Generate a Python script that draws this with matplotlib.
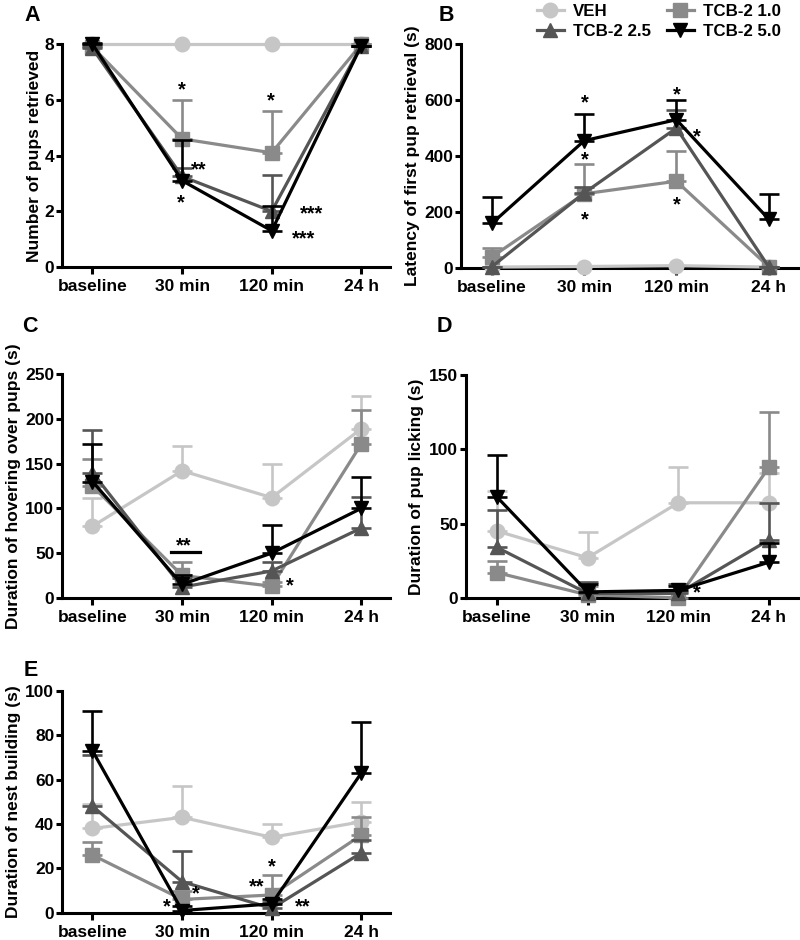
import matplotlib
matplotlib.use('Agg')
import matplotlib.pyplot as plt
import matplotlib.transforms as mtransforms
from matplotlib.lines import Line2D
import numpy as np

plt.rcParams['font.family'] = ['Liberation Sans', 'DejaVu Sans']
plt.rcParams['font.weight'] = 'bold'
plt.rcParams['axes.labelweight'] = 'bold'

times = ['baseline', '30 min', '120 min', '24 h']
groups = ['VEH', 'TCB-2 1.0', 'TCB-2 2.5', 'TCB-2 5.0']

# panel A: number of pups retrieved (mean, upper SEM)
a_veh = [8, 8, 8, 8]
a_veh_err = [0, 0, 0, 0]
a_t10 = [7.9, 4.6, 4.1, 8.0]
a_t10_err = [0.1, 1.4, 1.5, 0]
a_t25 = [7.85, 3.25, 2.0, 7.95]
a_t25_err = [0.1, 0.3, 1.3, 0]
a_t50 = [8.0, 3.1, 1.3, 7.95]
a_t50_err = [0.05, 1.45, 0.9, 0]

# panel B: latency of first pup retrieval
b_veh = [3, 5, 8, 3]
b_veh_err = [0, 0, 0, 0]
b_t10 = [40, 265, 310, 5]
b_t10_err = [30, 105, 108, 0]
b_t25 = [5, 268, 500, 5]
b_t25_err = [0, 20, 65, 0]
b_t50 = [160, 455, 530, 175]
b_t50_err = [93, 95, 70, 90]

# panel C: hovering over pups
c_veh = [80, 142, 112, 189]
c_veh_err = [32, 28, 38, 36]
c_t10 = [125, 25, 13, 172]
c_t10_err = [30, 15, 5, 38]
c_t25 = [140, 12, 30, 78]
c_t25_err = [48, 10, 10, 35]
c_t50 = [130, 15, 50, 100]
c_t50_err = [42, 10, 31, 35]

# panel D: pup licking
d_veh = [45, 27, 64, 64]
d_veh_err = [27, 17, 24, 20]
d_t10 = [17, 2, 0, 88]
d_t10_err = [8, 6, 4, 37]
d_t25 = [34, 3, 3, 39]
d_t25_err = [25, 8, 6, 25]
d_t50 = [68, 4, 5, 24]
d_t50_err = [28, 5, 3, 13]

# panel E: nest building
e_veh = [38, 43, 34, 41]
e_veh_err = [11, 14, 6, 9]
e_t10 = [26, 6, 8, 35]
e_t10_err = [6, 4, 9, 8]
e_t25 = [48, 14, 2, 27]
e_t25_err = [23, 14, 3, 6]
e_t50 = [73, 1, 4, 63]
e_t50_err = [18, 2, 2, 23]

colors = ['#c6c6c6', '#8a8a8a', '#555555', '#000000']
markers = ['o', 's', '^', 'v']
msizes = [10.5, 9.5, 10.5, 10.5]

font_size = 12.5
fig = plt.figure(figsize=(8, 9.4), dpi=100)


def draw_panel(rect, means, errs, ylim, yticks, ylabel, label_x):
    ax = fig.add_axes(rect)
    x = np.arange(len(times))
    for i in range(len(groups)):
        m = np.array(means[i], dtype=float)
        e = np.array(errs[i], dtype=float)
        ax.errorbar(x, m, yerr=[np.zeros_like(e), e], fmt='none',
                    ecolor=colors[i], elinewidth=1.9, capsize=7,
                    capthick=1.9, zorder=2 + i, clip_on=False)
        ax.plot(x, m, color=colors[i], lw=2.3, marker=markers[i],
                ms=msizes[i], mec=colors[i], zorder=3 + i, clip_on=False)
    ax.set_xlim(-0.34, 3.32)
    ax.set_ylim(*ylim)
    ax.set_yticks(yticks)
    ax.set_xticks(x)
    ax.set_xticklabels(times)
    for s in ['top', 'right']:
        ax.spines[s].set_visible(False)
    for s in ['left', 'bottom']:
        ax.spines[s].set_linewidth(2.2)
    ax.tick_params(width=2.2, length=5, labelsize=font_size)
    ax.tick_params(axis='y', length=4, pad=1.5)
    ax.set_ylabel(ylabel, fontsize=font_size)
    tr = mtransforms.blended_transform_factory(fig.transFigure, ax.transAxes)
    ax.yaxis.set_label_coords(label_x, 0.5, transform=tr)
    return ax


def stars(ax, pts):
    for x, y, t in pts:
        ax.text(x, y, t, ha='center', va='center', fontsize=14.5,
                fontweight='bold', zorder=10)


axA = draw_panel([0.0775, 0.716, 0.41, 0.237],
                 [a_veh, a_t10, a_t25, a_t50],
                 [a_veh_err, a_t10_err, a_t25_err, a_t50_err],
                 (0, 8), [0, 2, 4, 6, 8], 'Number of pups retrieved', 0.052)
stars(axA, [(1, 6.35, '*'), (1.19, 3.5, '**'), (0.99, 2.3, '*'),
            (1.99, 5.95, '*'), (2.45, 1.9, '***'), (2.35, 1.0, '***')])

axB = draw_panel([0.576, 0.715, 0.4215, 0.238],
                 [b_veh, b_t10, b_t25, b_t50],
                 [b_veh_err, b_t10_err, b_t25_err, b_t50_err],
                 (0, 800), [0, 200, 400, 600, 800],
                 'Latency of first pup retrieval (s)', 0.525)
stars(axB, [(1.01, 590, '*'), (1.01, 385, '*'), (1.01, 170, '*'),
            (2.0, 620, '*'), (2.22, 470, '*'), (2.0, 225, '*')])

axC = draw_panel([0.0775, 0.364, 0.41, 0.238],
                 [c_veh, c_t10, c_t25, c_t50],
                 [c_veh_err, c_t10_err, c_t25_err, c_t50_err],
                 (0, 250), [0, 50, 100, 150, 200, 250],
                 'Duration of hovering over pups (s)', 0.026)
axC.plot([0.88, 1.2], [51, 51], color='black', lw=2.3, zorder=10)
stars(axC, [(1.02, 58, '**'), (2.2, 13, '*')])

axD = draw_panel([0.5825, 0.364, 0.415, 0.237],
                 [d_veh, d_t10, d_t25, d_t50],
                 [d_veh_err, d_t10_err, d_t25_err, d_t50_err],
                 (0, 150), [0, 50, 100, 150],
                 'Duration of pup licking (s)', 0.530)
stars(axD, [(2.2, 3, '*')])

axE = draw_panel([0.0775, 0.029, 0.41, 0.236],
                 [e_veh, e_t10, e_t25, e_t50],
                 [e_veh_err, e_t10_err, e_t25_err, e_t50_err],
                 (0, 100), [0, 20, 40, 60, 80, 100],
                 'Duration of nest building (s)', 0.026)
stars(axE, [(1.15, 8.5, '*'), (0.83, 2.5, '*'), (2.0, 20.5, '*'),
            (1.83, 11.5, '**'), (2.34, 2.5, '**')])

# panel letters
for x, y, t in [(0.03, 0.995, 'A'), (0.548, 0.995, 'B'), (0.028, 0.664, 'C'),
                (0.546, 0.664, 'D'), (0.03, 0.298, 'E')]:
    fig.text(x, y, t, fontsize=15.5, fontweight='bold', va='top', ha='left')

handles = []
for i in range(len(groups)):
    handles.append(Line2D([0], [0], color=colors[i], lw=2.3, marker=markers[i],
                          ms=msizes[i], mec=colors[i]))
order = [0, 2, 1, 3]
fig.legend([handles[i] for i in order], [groups[i] for i in order],
           loc='upper left', bbox_to_anchor=(0.652, 1.012), ncol=2,
           frameon=False, fontsize=12.2, handlelength=1.6,
           handletextpad=0.55, columnspacing=0.9, labelspacing=0.3)

plt.savefig('out.png', dpi=100)
